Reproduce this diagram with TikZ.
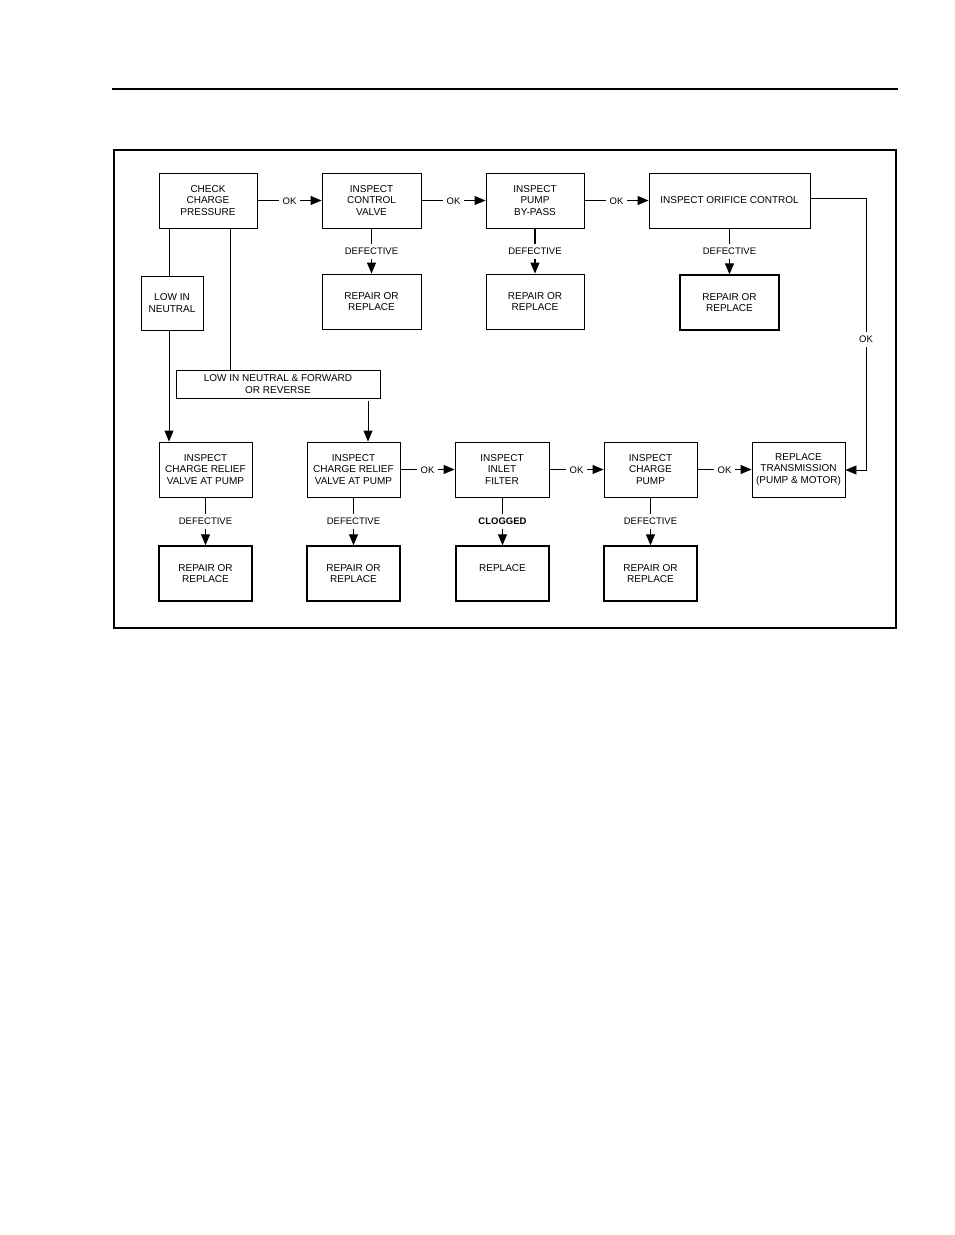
\documentclass[tikz,border=0pt]{standalone}
\usepackage{fontspec}
\setmainfont{Liberation Sans}
\usetikzlibrary{arrows.meta,calc}
\tikzset{
  box/.style={draw, line width=0.9pt, align=center, inner sep=1pt,
    font=\fontsize{10}{11.3}\selectfont, minimum width=93pt, minimum height=55pt},
  resbox/.style={box, line width=1.4pt},
  lbl/.style={fill=white, inner xsep=3.5pt, inner ysep=4pt, text height=7pt, text depth=0pt,
    font=\fontsize{9.5}{11}\selectfont},
  arr/.style={line width=0.9pt, -{Triangle[length=11pt,width=9pt]}},
  defarr/.style={arr, line width=1.2pt},
  ln/.style={line width=0.9pt}
}
\begin{document}
\begin{tikzpicture}[x=1pt,y=-1pt]
\useasboundingbox (0,0) rectangle (954,1235);
\fill[white] (0,0) rectangle (954,1235);
% header rule and frame
\draw[line width=1.5pt] (112,89) -- (898,89);
\draw[line width=2pt] (114,150) rectangle (896,628);
% top row
\node[box, minimum width=98pt] (ccp) at (208,200.5) {CHECK\\CHARGE\\PRESSURE};
\node[box, minimum width=99pt] (icv) at (371.5,200.5) {INSPECT\\CONTROL\\VALVE};
\node[box, minimum width=98pt] (ipb) at (535,200.5) {INSPECT\\PUMP\\BY-PASS};
\node[box, minimum width=161pt] (ioc) at (729.5,200.5) {INSPECT ORIFICE CONTROL};
\node[box, minimum width=99pt] (r1) at (371.5,301.5) {REPAIR OR\\REPLACE};
\node[box, minimum width=98pt] (r2) at (535,301.5) {REPAIR OR\\REPLACE};
\node[resbox, minimum width=99pt] (r3) at (729.5,302.5) {REPAIR OR\\REPLACE};
\node[box, minimum width=62pt, minimum height=54pt] (lin) at (172,303) {LOW IN\\NEUTRAL};
\node[box, minimum width=204pt, minimum height=28pt] (lnf) at (278,384) {LOW IN NEUTRAL \& FORWARD\\OR REVERSE};
% lower row
\node[box] (cr1) at (205.5,469.5) {INSPECT\\CHARGE RELIEF\\VALVE AT PUMP};
\node[box] (cr2) at (353.5,469.5) {INSPECT\\CHARGE RELIEF\\VALVE AT PUMP};
\node[box, minimum width=94pt] (iif) at (502,469.5) {INSPECT\\INLET\\FILTER};
\node[box] (icp) at (650.5,469.5) {INSPECT\\CHARGE\\PUMP};
\node[box] (rt) at (798.5,469.5) {REPLACE\\TRANSMISSION\\(PUMP \& MOTOR)};
\node[resbox] (b1) at (205.5,573.5) {REPAIR OR\\REPLACE};
\node[resbox] (b2) at (353.5,573.5) {REPAIR OR\\REPLACE};
\node[resbox] (b3) at (502.5,573.5) {REPLACE\\\phantom{X}};
\node[resbox] (b4) at (650.5,573.5) {REPAIR OR\\REPLACE};
% top row OK arrows
\draw[arr] (ccp) -- node[lbl]{OK} (icv);
\draw[arr] (icv) -- node[lbl]{OK} (ipb);
\draw[arr] (ipb) -- node[lbl]{OK} (ioc);
% defective arrows top
\draw[defarr] (icv) -- node[lbl]{DEFECTIVE} (r1);
\draw[defarr] (ipb) -- node[lbl]{DEFECTIVE} (r2);
\draw[defarr] (ioc) -- node[lbl]{DEFECTIVE} (r3);
% branches from check charge pressure
\coordinate (p1) at (169,228);
\coordinate (p2) at (230,228);
\coordinate (p3) at (368,401);
\draw[ln] (p1) -- (p1 |- lin.north);
\draw[arr] (p1 |- lin.south) -- (p1 |- cr1.north);
\draw[ln] (p2) -- (p2 |- lnf.north);
\draw[arr] (p3) -- (p3 |- cr2.north);
% right OK path
\coordinate (c1) at (866,198);
\coordinate (c2) at (866,470);
\draw[arr] (ioc.east |- c1) -- (c1) -- node[lbl,pos=0.52]{OK} (c2) -- (rt.east |- c2);
% bottom row OK arrows
\draw[arr] (cr2) -- node[lbl]{OK} (iif);
\draw[arr] (iif) -- node[lbl]{OK} (icp);
\draw[arr] (icp) -- node[lbl]{OK} (rt);
% bottom defective arrows
\draw[arr] (cr1) -- node[lbl]{DEFECTIVE} (b1);
\draw[arr] (cr2) -- node[lbl]{DEFECTIVE} (b2);
\draw[arr] (iif.south -| b3) -- node[lbl,font=\fontsize{9.5}{11}\selectfont\bfseries]{CLOGGED} (b3);
\draw[defarr] (icp) -- node[lbl]{DEFECTIVE} (b4);
\end{tikzpicture}
\end{document}
